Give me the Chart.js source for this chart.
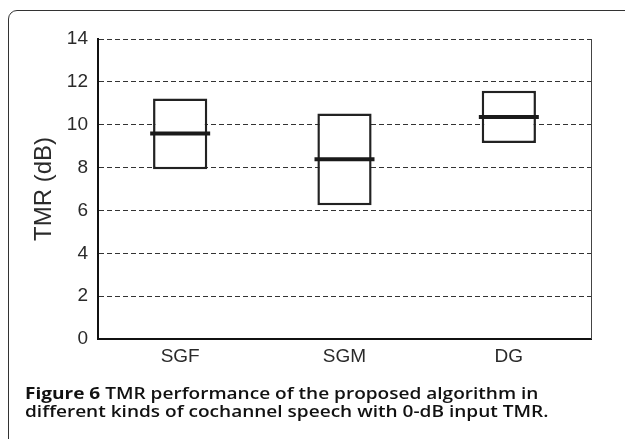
<!DOCTYPE html>
<html>
<head>
<meta charset="utf-8">
<script src="https://cdn.jsdelivr.net/npm/chart.js@4.4.1/dist/chart.umd.min.js"></script>
<style>
  html, body { margin: 0; padding: 0; background: #fff; }
  body { width: 625px; height: 439px; position: relative; overflow: hidden; }
  #frame {
    position: absolute; left: 8px; top: 10px; width: 640px; height: 460px;
    border: 1.5px solid #333; border-radius: 9px; box-sizing: border-box;
  }
  #chart { position: absolute; left: 0; top: 0; }
  #caption {
    position: absolute; left: 25px; top: 384px;
    font-family: "Open Sans", sans-serif; font-weight: 600; font-size: 16px;
    line-height: 18px; color: #111; white-space: nowrap;
    transform: scaleX(1.19); transform-origin: left top;
  }
  #caption b { font-weight: 700; }
</style>
</head>
<body>
<div id="frame"></div>
<canvas id="chart" width="625" height="439"></canvas>
<div id="caption">
  <div><b>Figure 6</b> TMR performance of the proposed algorithm in</div>
  <div>different kinds of cochannel speech with 0-dB input TMR.</div>
</div>
<script>
// box plot values
const categories = ["SGF", "SGM", "DG"];
const lowerQuartile = [7.92, 6.24, 9.15];
const upperQuartile = [11.22, 10.52, 11.58];
const medians = [9.59, 8.39, 10.36];
const yTicks = [0, 2, 4, 6, 8, 10, 12, 14];

const ctx = document.getElementById("chart").getContext("2d");

// thin right-hand frame of the plot area
const rightEdge = {
  id: "rightEdge",
  afterDraw(chart) {
    const a = chart.chartArea, c = chart.ctx;
    c.save();
    c.strokeStyle = "#444";
    c.lineWidth = 1;
    c.beginPath();
    c.moveTo(a.right + 0.5, a.top);
    c.lineTo(a.right + 0.5, a.bottom);
    c.stroke();
    c.restore();
  }
};

new Chart(ctx, {
  type: "bar",
  data: {
    labels: categories,
    datasets: [
      {
        label: "median",
        type: "line",
        data: medians,
        showLine: false,
        pointStyle: "line",
        pointRadius: 30,
        pointHoverRadius: 30,
        pointBorderWidth: 4,
        pointHoverBorderWidth: 4,
        borderColor: "#1a1a1a",
        order: 0
      },
      {
        label: "box",
        data: lowerQuartile.map((lo, i) => [lo, upperQuartile[i]]),
        backgroundColor: "#fff",
        borderColor: "#222",
        borderWidth: 2.5,
        borderSkipped: false,
        categoryPercentage: 1,
        barPercentage: 0.33,
        order: 1
      }
    ]
  },
  options: {
    responsive: false,
    animation: false,
    layout: { padding: { left: 30, right: 20, top: 39, bottom: 70 } },
    plugins: { legend: { display: false }, tooltip: { enabled: false } },
    scales: {
      x: {
        grid: { display: false, drawTicks: false },
        border: { display: true, color: "#111", width: 2 },
        ticks: { color: "#2a2a2a", padding: 6, font: { family: "Liberation Sans", size: 19 } },
        afterFit: s => { s.height = 30; }
      },
      y: {
        min: 0,
        max: 14,
        afterBuildTicks: s => { s.ticks = yTicks.map(v => ({ value: v })); },
        grid: { color: "#333", lineWidth: 1, drawTicks: false },
        border: { display: true, color: "#111", width: 2, dash: [5, 3] },
        ticks: { color: "#2a2a2a", padding: 10, font: { family: "Liberation Sans", size: 19 } },
        title: {
          display: true, text: "TMR (dB)", color: "#2a2a2a",
          font: { family: "Liberation Sans", size: 24 }, padding: { top: 0, bottom: 0 }
        },
        afterFit: s => { s.width = 68; }
      }
    }
  },
  plugins: [rightEdge]
});
</script>
</body>
</html>
